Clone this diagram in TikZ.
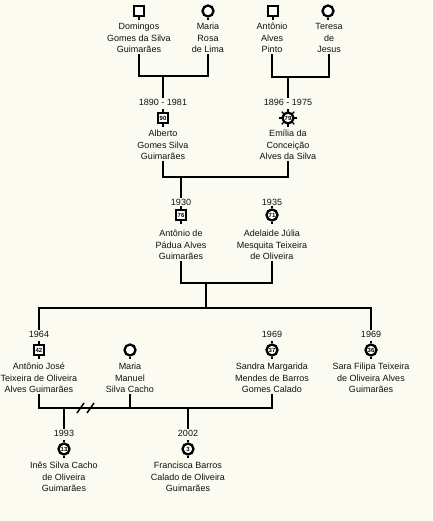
\documentclass[tikz,border=0pt]{standalone}
\usepackage{fontspec}
\setmainfont{Liberation Sans}
\definecolor{bg}{HTML}{FBFBF1}
\definecolor{ink}{HTML}{111111}
\begin{document}
\begin{tikzpicture}[x=1pt,y=-1pt,
  conn/.style={line width=2.6pt, line join=miter, draw=black},
  stub/.style={line width=2pt, draw=black},
  pname/.style={align=center, font=\fontsize{9}{11.5}\selectfont, inner sep=1pt, text=ink},
  pdate/.style={font=\fontsize{9}{10}\selectfont, inner sep=1pt, text=ink},
  male/.style={draw, line width=2.3pt, minimum size=10.5pt, inner sep=0pt, fill=white, font=\fontsize{6}{6}\selectfont\bfseries},
  female/.style={male, circle, minimum size=11pt},
  divmark/.style={line width=1.5pt, draw=black}
]
\useasboundingbox (0,0) rectangle (432,521);
\fill[bg] (0,0) rectangle (432,521);

% generation 1
\node[male]   (domI) at (139,11) {};
\node[female] (marI) at (208,11) {};
\node[male]   (antI) at (273,11) {};
\node[female] (terI) at (328,11) {};
\node[pname] (domT) at (139,38) {Domingos\\Gomes da Silva\\Guimarães};
\node[pname] (marT) at (208,38) {Maria\\Rosa\\de Lima};
\node[pname] (antT) at (272,38) {Antônio\\Alves\\Pinto};
\node[pname] (terT) at (329,38) {Teresa\\de\\Jesus};

% generation 2
\node[pdate] (albD) at (163,102) {1890 - 1981};
\node[male]  (albI) at (163,118) {90};
\node[pname] (albT) at (163,145) {Alberto\\Gomes Silva\\Guimarães};
\node[pdate] (emiD) at (288,102) {1896 - 1975};
\node[female](emiI) at (288,118) {79};
\node[pname] (emiT) at (288,145) {Emília da\\Conceição\\Alves da Silva};

% generation 3
\node[pdate] (apD) at (181,202) {1930};
\node[male]  (apI) at (181,215) {76};
\node[pname] (apT) at (181,245) {Antônio de\\Pádua Alves\\Guimarães};
\node[pdate] (adD) at (272,202) {1935};
\node[female](adI) at (272,215) {71};
\node[pname] (adT) at (272,245) {Adelaide Júlia\\Mesquita Teixeira\\de Oliveira};

% generation 4
\node[pdate] (ajD) at (39,334) {1964};
\node[male]  (ajI) at (39,350) {42};
\node[pname] (ajT) at (39,378) {Antônio José\\Teixeira de Oliveira\\Alves Guimarães};
\node[female](mmI) at (130,350) {};
\node[pname] (mmT) at (130,378) {Maria\\Manuel\\Silva Cacho};
\node[pdate] (saD) at (272,334) {1969};
\node[female](saI) at (272,350) {37};
\node[pname] (saT) at (272,378) {Sandra Margarida\\Mendes de Barros\\Gomes Calado};
\node[pdate] (sfD) at (371,334) {1969};
\node[female](sfI) at (371,350) {36};
\node[pname] (sfT) at (371,378) {Sara Filipa Teixeira\\de Oliveira Alves\\Guimarães};

% generation 5
\node[pdate] (inD) at (64,433) {1993};
\node[female](inI) at (64,449) {13};
\node[pname] (inT) at (64,477) {Inês Silva Cacho\\de Oliveira\\Guimarães};
\node[pdate] (frD) at (188,433) {2002};
\node[female](frI) at (188,449) {3};
\node[pname] (frT) at (188,477) {Francisca Barros\\Calado de Oliveira\\Guimarães};

% junctions
\coordinate (j1) at (163,76);
\coordinate (j2) at (288,77);
\coordinate (j3) at (181,177);
\coordinate (j4) at (206,283);
\coordinate (j5) at (206,308);
\coordinate (j6) at (64,408);
\coordinate (j7) at (188,408);

% connectors
\draw[conn] (domT.south) |- (j1) -| (marT.south);
\draw[conn] (j1) -- (albD.north);
\draw[conn] (antT.south) |- (j2) -| (terT.south);
\draw[conn] (j2) -- (emiD.north);
\draw[conn] (albT.south) |- (j3) -| (emiT.south);
\draw[conn] (j3) -- (apD.north);
\draw[conn] (apT.south) |- (j4) -| (adT.south);
\draw[conn] (j4) -- (j5);
\draw[conn] (ajD.north) |- (j5) -| (sfD.north);
\draw[conn] (ajT.south) |- (j7) -| (saT.south);
\draw[conn] (mmT.south) -- (mmT.south |- j7);
\draw[conn] (j6) -- (inD.north);
\draw[conn] (j7) -- (frD.north);

% divorce marks
\draw[divmark] (77,413) -- (84,403);
\draw[divmark] (87,413) -- (94,403);

% icon stubs
\foreach \n in {domI,marI,antI,terI,albI,emiI,apI,adI,ajI,mmI,saI,sfI,inI,frI}
  \draw[stub] (\n.south) -- ++(0,2.2);
\foreach \n in {albI,emiI,apI,adI,ajI,saI,sfI,inI,frI}
  \draw[stub] (\n.north) -- ++(0,-2.2);

% deceased spikes
\foreach \a in {0,45,...,315}
  \draw[stub, line width=1.4pt] (emiI.center) ++(\a:6.2) -- ++(\a:2.8);
\end{tikzpicture}
\end{document}
